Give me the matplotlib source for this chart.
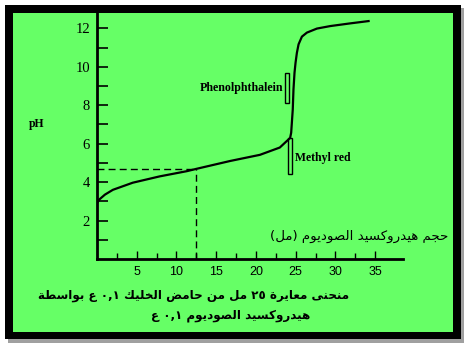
import matplotlib
matplotlib.use('Agg')
import matplotlib.pyplot as plt
from matplotlib.patches import Rectangle

# titration curve: volume NaOH (ml) vs pH
volume = [0, 0.3, 1, 2, 4.5, 7.9, 11.3, 12.6, 16.75, 20.5, 23, 24.3, 24.43, 24.63, 24.72,
          24.85, 24.98, 25.15, 25.36, 25.78, 26.41, 27.67, 29.35, 31.86, 34.17]
ph = [2.9, 3.1, 3.35, 3.6, 3.97, 4.3, 4.57, 4.7, 5.1, 5.42, 5.8, 6.3, 6.57, 7.78, 8.82,
      9.69, 10.21, 10.73, 11.17, 11.57, 11.78, 11.99, 12.12, 12.26, 12.38]

half_eq_volume = 12.5
half_eq_ph = 4.7

# indicator ranges (volume span of the little box, pH span)
pheno_vol = (23.68, 24.18)
pheno_ph = (8.1, 9.7)
methyl_vol = (24.06, 24.56)
methyl_ph = (4.4, 6.27)

x_major = [5, 10, 15, 20, 25, 30, 35]
x_minor = [2.5, 7.5, 12.5, 17.5, 22.5, 27.5, 32.5]
y_major = [2, 4, 6, 8, 10, 12]
y_minor = [1, 3, 5, 7, 9, 11]

xlabel_ar = 'حجم هيدروكسيد الصوديوم (مل)'
caption1 = 'منحنى معايرة ٢٥ مل من حامض الخليك ٠,١ ع بواسطة'
caption2 = 'هيدروكسيد الصوديوم ٠,١ ع'

# matplotlib does no arabic shaping, so do a small one by hand
FORMS = {
    'ا': ('\uFE8D', '\uFE8E', None, None),
    'ب': ('\uFE8F', '\uFE90', '\uFE91', '\uFE92'),
    'ة': ('\uFE93', '\uFE94', None, None),
    'ج': ('\uFE9D', '\uFE9E', '\uFE9F', '\uFEA0'),
    'ح': ('\uFEA1', '\uFEA2', '\uFEA3', '\uFEA4'),
    'خ': ('\uFEA5', '\uFEA6', '\uFEA7', '\uFEA8'),
    'د': ('\uFEA9', '\uFEAA', None, None),
    'ر': ('\uFEAD', '\uFEAE', None, None),
    'س': ('\uFEB1', '\uFEB2', '\uFEB3', '\uFEB4'),
    'ص': ('\uFEB9', '\uFEBA', '\uFEBB', '\uFEBC'),
    'ض': ('\uFEBD', '\uFEBE', '\uFEBF', '\uFEC0'),
    'ط': ('\uFEC1', '\uFEC2', '\uFEC3', '\uFEC4'),
    'ع': ('\uFEC9', '\uFECA', '\uFECB', '\uFECC'),
    'ك': ('\uFED9', '\uFEDA', '\uFEDB', '\uFEDC'),
    'ل': ('\uFEDD', '\uFEDE', '\uFEDF', '\uFEE0'),
    'م': ('\uFEE1', '\uFEE2', '\uFEE3', '\uFEE4'),
    'ن': ('\uFEE5', '\uFEE6', '\uFEE7', '\uFEE8'),
    'ه': ('\uFEE9', '\uFEEA', '\uFEEB', '\uFEEC'),
    'و': ('\uFEED', '\uFEEE', None, None),
    'ى': ('\uFEEF', '\uFEF0', None, None),
    'ي': ('\uFEF1', '\uFEF2', '\uFEF3', '\uFEF4'),
}


def shape_word(w):
    out = ''
    for i, ch in enumerate(w):
        if ch not in FORMS:
            out += ch
            continue
        prev = i > 0 and w[i-1] in FORMS and FORMS[w[i-1]][2] is not None
        nxt = i < len(w)-1 and w[i+1] in FORMS and FORMS[ch][2] is not None
        if prev and nxt:
            out += FORMS[ch][3]
        elif prev:
            out += FORMS[ch][1]
        elif nxt:
            out += FORMS[ch][2]
        else:
            out += FORMS[ch][0]
    return out


def rtl(text):
    words = []
    for w in text.split(' '):
        if any(c in FORMS for c in w):
            v = shape_word(w)[::-1]
            v = v.replace('(', '#').replace(')', '(').replace('#', ')')
            words.append(v)
        else:
            words.append(w)
    return ' '.join(words[::-1])


W, H = 467, 346
green = '#66ff66'

fig = plt.figure(figsize=(W/100, H/100), dpi=100, facecolor='white')


def box(x0, y0, x1, y1, color):
    fig.add_artist(Rectangle((x0/W, 1-y1/H), (x1-x0)/W, (y1-y0)/H,
                             transform=fig.transFigure, facecolor=color,
                             edgecolor='none', zorder=-10))


box(8, 8, 464, 343, '#a0a0a0')
box(5, 5, 461, 339, 'black')
box(13, 13, 453, 332, green)

ax = fig.add_axes([97/W, 1-259/H, 306/W, 246/H])
ax.set_facecolor('none')
ax.set_xlim(0, 38.5)
ax.set_ylim(0, 12.8)
for s in ['top', 'right']:
    ax.spines[s].set_visible(False)
ax.spines['left'].set_linewidth(2)
ax.spines['bottom'].set_linewidth(2)

ax.plot(volume, ph, color='black', lw=1.6)
ax.plot([0, half_eq_volume], [half_eq_ph, half_eq_ph], color='black', lw=1,
        ls=(0, (5, 3)))
ax.plot([half_eq_volume, half_eq_volume], [0, half_eq_ph], color='black', lw=1,
        ls=(0, (5, 3)))

ax.add_patch(Rectangle((pheno_vol[0], pheno_ph[0]), pheno_vol[1]-pheno_vol[0],
                       pheno_ph[1]-pheno_ph[0], fill=False, lw=1, edgecolor='black'))
ax.add_patch(Rectangle((methyl_vol[0], methyl_ph[0]), methyl_vol[1]-methyl_vol[0],
                       methyl_ph[1]-methyl_ph[0], fill=False, lw=1, edgecolor='black'))
ax.text(pheno_vol[0]-0.3, sum(pheno_ph)/2, 'Phenolphthalein', ha='right', va='center',
        family='Liberation Serif', fontweight='bold', fontsize=8.6)
ax.text(methyl_vol[1]+0.3, 5.27, 'Methyl red', ha='left', va='center',
        family='Liberation Serif', fontweight='bold', fontsize=8.5)

ax.set_xticks(x_major)
ax.set_xticks(x_minor, minor=True)
ax.set_yticks(y_major)
ax.set_yticks(y_minor, minor=True)
ax.tick_params(axis='x', which='major', direction='in', length=6, width=1, pad=5,
               labelsize=9)
ax.tick_params(axis='x', which='minor', direction='in', length=4, width=1)
ax.tick_params(axis='y', which='both', direction='in', length=8, width=1.2, pad=5,
               labelsize=10.5)
for lab in ax.get_xticklabels():
    lab.set_family('Liberation Sans')
for lab in ax.get_yticklabels():
    lab.set_family('Liberation Serif')

fig.text(37/W, 1-124/H, 'pH', ha='center', va='center', family='Liberation Serif',
         fontweight='bold', fontsize=8.5)

fig.text(448/W, 1-236/H, rtl(xlabel_ar), ha='right', va='center',
         family='DejaVu Sans', fontsize=9.6)
fig.text(194/W, 1-295/H, rtl(caption1), ha='center', va='center',
         family='DejaVu Sans', fontweight='bold', fontsize=8.6)
fig.text(231/W, 1-315/H, rtl(caption2), ha='center', va='center',
         family='DejaVu Sans', fontweight='bold', fontsize=8.6)

fig.savefig('out.png', dpi=100, facecolor='white')
